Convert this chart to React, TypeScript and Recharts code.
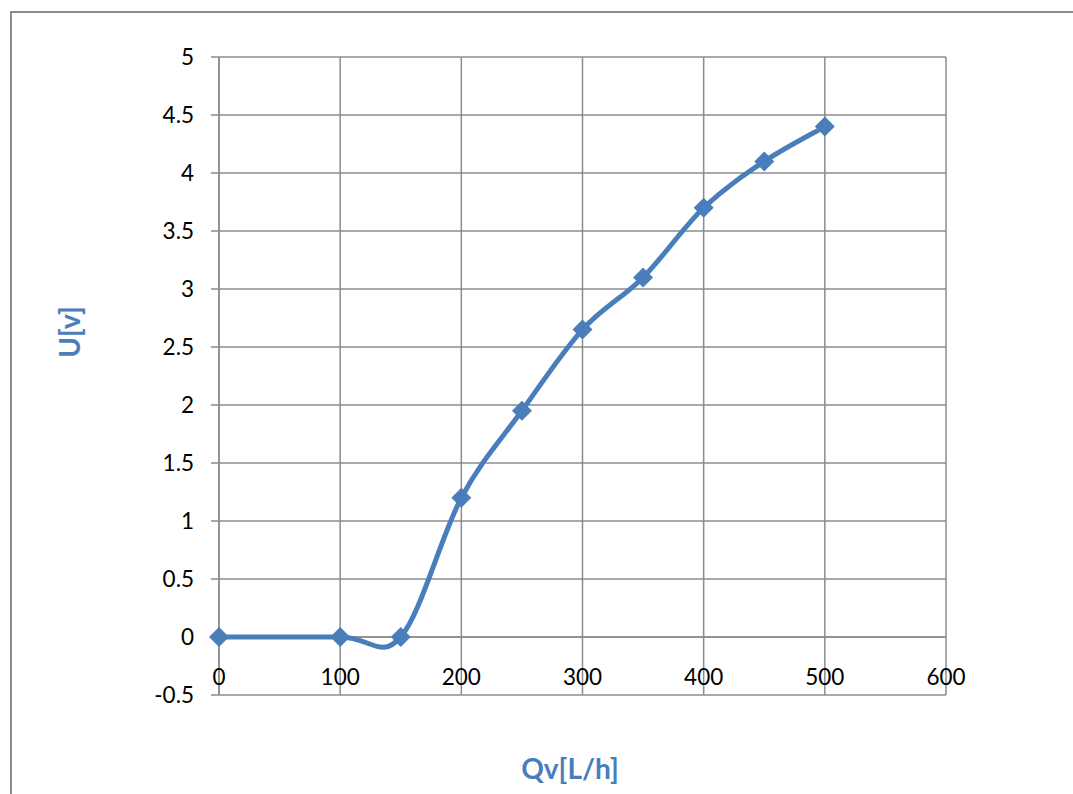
import { LineChart, Line, XAxis, YAxis, CartesianGrid, ReferenceLine, Label } from 'recharts'

const flowRates = [0, 100, 150, 200, 250, 300, 350, 400, 450, 500]
const voltages = [0, 0, 0, 1.2, 1.95, 2.65, 3.1, 3.7, 4.1, 4.4]
const xTicks = [0, 100, 200, 300, 400, 500, 600]
const yTicks = [-0.5, 0, 0.5, 1, 1.5, 2, 2.5, 3, 3.5, 4, 4.5, 5]

const data = flowRates.map((q, i) => ({ q, u: voltages[i] }))

const BLUE = '#4a7ebb'
const GRID = '#8c8c8c'
const FONT = 'Lato, "Open Sans", sans-serif'

const W = 1073
const H = 794
const PLOT_TOP = 57
const PLOT_BOTTOM = 695
const Y_MIN = -0.5
const Y_MAX = 5
// pixel row of the value 0, where Excel lets the category axis cross
const ZERO_Y = PLOT_TOP + ((Y_MAX - 0) / (Y_MAX - Y_MIN)) * (PLOT_BOTTOM - PLOT_TOP)

// Catmull-Rom style smoothing, close to Excel's "smoothed line"
function smoothCurve(context: any) {
  let pts: [number, number][] = []
  return {
    areaStart() {},
    areaEnd() {},
    lineStart() {
      pts = []
    },
    lineEnd() {
      const n = pts.length
      if (!n) return
      context.moveTo(pts[0][0], pts[0][1])
      for (let i = 0; i < n - 1; i++) {
        const p0 = pts[Math.max(i - 1, 0)]
        const p1 = pts[i]
        const p2 = pts[i + 1]
        const p3 = pts[Math.min(i + 2, n - 1)]
        context.bezierCurveTo(
          p1[0] + (p2[0] - p0[0]) / 6,
          p1[1] + (p2[1] - p0[1]) / 6,
          p2[0] - (p3[0] - p1[0]) / 6,
          p2[1] - (p3[1] - p1[1]) / 6,
          p2[0],
          p2[1]
        )
      }
    },
    point(x: number, y: number) {
      pts.push([+x, +y])
    },
  }
}

function Diamond(props: any) {
  const { cx, cy } = props
  if (cx == null || cy == null) return null
  const r = 10
  return (
    <polygon
      points={`${cx},${cy - r} ${cx + r},${cy} ${cx},${cy + r} ${cx - r},${cy}`}
      fill={BLUE}
    />
  )
}

function XTick(props: any) {
  const { x, payload } = props
  return (
    <text x={x} y={ZERO_Y + 39} textAnchor="middle" dominantBaseline="central" fontSize={22.5} fontFamily={FONT} fill="#000">
      {payload.value}
    </text>
  )
}

export default function App() {
  return (
    <div style={{ position: 'fixed', left: 0, top: 0, width: W, height: H, overflow: 'hidden', background: '#fff' }}>
      <div
        style={{
          position: 'absolute',
          left: 10,
          top: 11,
          width: W + 20,
          height: H + 20,
          border: `2px solid ${GRID}`,
          boxSizing: 'border-box',
        }}
      />
      <div style={{ position: 'absolute', left: 0, top: 0 }}>
        <LineChart width={W} height={H} data={data} margin={{ top: PLOT_TOP, right: 127, bottom: 69, left: 159 }}>
          <CartesianGrid stroke={GRID} strokeWidth={1.5} horizontalValues={yTicks} verticalValues={xTicks} />
          <XAxis
            dataKey="q"
            type="number"
            domain={[0, 600]}
            ticks={xTicks}
            height={30}
            axisLine={false}
            tickLine={false}
            tick={<XTick />}
            interval={0}
          />
          <YAxis
            type="number"
            domain={[Y_MIN, Y_MAX]}
            ticks={yTicks}
            width={60}
            interval={0}
            axisLine={{ stroke: GRID, strokeWidth: 1.5 }}
            tickLine={{ stroke: GRID, strokeWidth: 1.5 }}
            tickSize={8}
            tickMargin={17}
            tick={{ fontSize: 22.5, fontFamily: FONT, fill: '#000' }}
          >
            <Label
              content={() => (
                <text
                  x={69}
                  y={332}
                  transform="rotate(-90 69 332)"
                  textAnchor="middle"
                  dominantBaseline="central"
                  fontSize={28}
                  fontWeight="bold"
                  fontFamily={FONT}
                  fill={BLUE}
                >
                  U[v]
                </text>
              )}
            />
          </YAxis>
          <ReferenceLine y={0} stroke={GRID} strokeWidth={1.5} />
          <Line
            dataKey="u"
            type={smoothCurve as any}
            stroke={BLUE}
            strokeWidth={5}
            dot={<Diamond />}
            activeDot={false}
            isAnimationActive={false}
          />
        </LineChart>
      </div>
      <div
        style={{
          position: 'absolute',
          left: 0,
          top: 768,
          width: 1140,
          textAlign: 'center',
          transform: 'translateY(-50%)',
          fontFamily: FONT,
          fontWeight: 'bold',
          fontSize: 28,
          color: BLUE,
        }}
      >
        Qv[L/h]
      </div>
    </div>
  )
}
